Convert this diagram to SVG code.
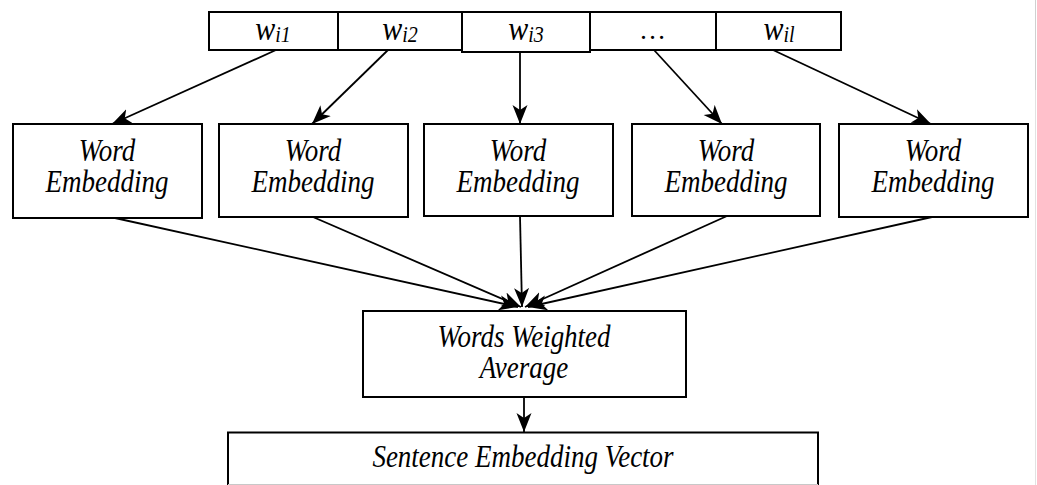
<svg xmlns="http://www.w3.org/2000/svg" width="1037" height="485" viewBox="0 0 1037 485">
<style>
.box{fill:#fff;stroke:#000;stroke-width:2}
.t{font-family:"Liberation Serif","Times New Roman",serif;font-style:italic;font-size:27px;fill:#000;text-anchor:middle}
.w{font-size:30px}
.sub{font-size:20px}
.c{stroke:#000;stroke-width:1.8;fill:none;marker-end:url(#ah)}
</style>
<defs>
<marker id="ah" markerUnits="userSpaceOnUse" markerWidth="20" markerHeight="16" viewBox="0 -8 20 16" refX="19" refY="0" orient="auto">
<path d="M0,-7.5 L19,0 L0,7.5 L5,0 z" fill="#000"/>
</marker>
</defs>
<rect x="0" y="0" width="1037" height="485" fill="#fff"/>
<line x1="1035.5" y1="0" x2="1035.5" y2="485" stroke="#e2e2e2" stroke-width="1"/>
<line x1="1035.5" y1="0" x2="1035.5" y2="90" stroke="#d0d0d0" stroke-width="1"/>

<g id="words">
<g id="w1"><rect class="box" x="209" y="12" width="129" height="38"/><text class="t w" transform="translate(273,40) scale(1,1.12)">w<tspan class="sub" dy="2">i1</tspan></text></g>
<g id="w2"><rect class="box" x="338" y="12" width="124" height="38"/><text class="t w" transform="translate(400,40) scale(1,1.12)">w<tspan class="sub" dy="2">i2</tspan></text></g>
<g id="w3"><rect class="box" x="462" y="12" width="128" height="40"/><text class="t w" transform="translate(526,40) scale(1,1.12)">w<tspan class="sub" dy="2">i3</tspan></text></g>
<g id="w4"><rect class="box" x="590" y="12" width="126" height="38"/><text class="t" transform="translate(653,39)">…</text></g>
<g id="w5"><rect class="box" x="716" y="12" width="125" height="38"/><text class="t w" transform="translate(779,40) scale(1,1.12)">w<tspan class="sub" dy="2">il</tspan></text></g>
</g>

<g id="emb1"><rect class="box" x="13" y="124" width="189" height="94"/><text class="t" transform="translate(107,161) scale(1,1.15)">Word</text><text class="t" transform="translate(107,192) scale(1,1.15)">Embedding</text></g>
<g id="emb2"><rect class="box" x="219" y="124" width="189" height="93"/><text class="t" transform="translate(313,161) scale(1,1.15)">Word</text><text class="t" transform="translate(313,192) scale(1,1.15)">Embedding</text></g>
<g id="emb3"><rect class="box" x="424" y="124" width="189" height="92"/><text class="t" transform="translate(518,161) scale(1,1.15)">Word</text><text class="t" transform="translate(518,192) scale(1,1.15)">Embedding</text></g>
<g id="emb4"><rect class="box" x="632" y="124" width="188" height="92"/><text class="t" transform="translate(726,161) scale(1,1.15)">Word</text><text class="t" transform="translate(726,192) scale(1,1.15)">Embedding</text></g>
<g id="emb5"><rect class="box" x="839" y="124" width="189" height="93"/><text class="t" transform="translate(933,161) scale(1,1.15)">Word</text><text class="t" transform="translate(933,192) scale(1,1.15)">Embedding</text></g>

<g id="avg"><rect class="box" x="363" y="311" width="323" height="86"/><text class="t" transform="translate(524,347) scale(1,1.15)">Words Weighted</text><text class="t" transform="translate(524,378) scale(1,1.15)">Average</text></g>

<g id="sent"><path d="M228,485 V432.5 H818 V485" fill="#fff" stroke="#000" stroke-width="2"/><line x1="228" y1="484.5" x2="818" y2="484.5" stroke="#c8c8c8" stroke-width="1"/><text class="t" transform="translate(523,467) scale(1,1.15)">Sentence Embedding Vector</text></g>

<g id="connectors">
<line class="c" x1="276" y1="50" x2="112" y2="124"/>
<line class="c" x1="388" y1="50" x2="312" y2="124"/>
<line class="c" x1="520" y1="52" x2="520" y2="124"/>
<line class="c" x1="654" y1="50" x2="722" y2="124"/>
<line class="c" x1="773" y1="50" x2="931" y2="124"/>
<line class="c" x1="115" y1="218" x2="518" y2="307"/>
<line class="c" x1="313" y1="217" x2="521" y2="307"/>
<line class="c" x1="520" y1="216" x2="522" y2="307"/>
<line class="c" x1="727" y1="216" x2="525" y2="307"/>
<line class="c" x1="932" y1="217" x2="528" y2="307"/>
<line class="c" x1="524" y1="397" x2="524" y2="432"/>
</g>
</svg>
